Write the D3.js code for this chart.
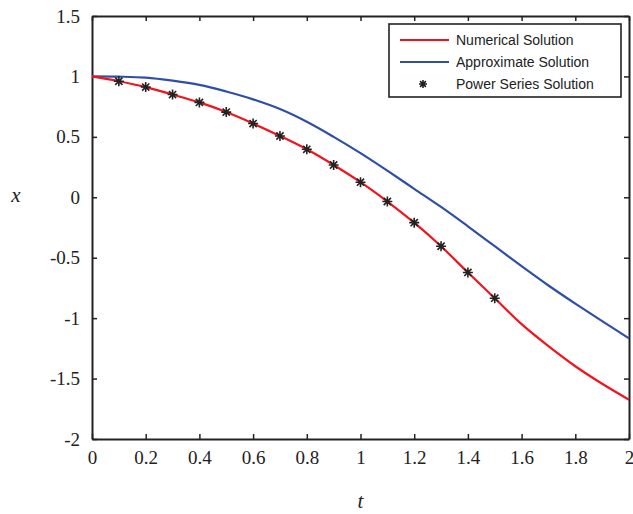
<!DOCTYPE html>
<html>
<head>
<meta charset="utf-8">
<script src="https://cdn.jsdelivr.net/npm/d3@7"></script>
<style>
  body { margin: 0; background: #fff; }
</style>
</head>
<body>
<script>
const tValues = [0, 0.1, 0.2, 0.3, 0.4, 0.5, 0.6, 0.7, 0.8, 0.9, 1.0,
    1.1, 1.2, 1.3, 1.4, 1.5, 1.6, 1.7, 1.8, 1.9, 2.0]
const numerical = [1.0, 0.96, 0.912, 0.85, 0.785, 0.705, 0.61, 0.507, 0.397, 0.267, 0.125,
    -0.035, -0.21, -0.405, -0.622, -0.835, -1.05, -1.232, -1.398, -1.543, -1.675]
const approximate = [1.0, 0.998, 0.99, 0.965, 0.93, 0.875, 0.81, 0.73, 0.625, 0.50, 0.365,
    0.22, 0.07, -0.08, -0.24, -0.405, -0.57, -0.73, -0.88, -1.025, -1.167]
const seriesT = [0.1, 0.2, 0.3, 0.4, 0.5, 0.6, 0.7, 0.8, 0.9, 1.0, 1.1, 1.2, 1.3, 1.4, 1.5]
const seriesX = [0.96, 0.912, 0.85, 0.785, 0.705, 0.61, 0.507, 0.397, 0.267, 0.125,
    -0.035, -0.21, -0.405, -0.622, -0.835]
const xTicks = [0, 0.2, 0.4, 0.6, 0.8, 1, 1.2, 1.4, 1.6, 1.8, 2]
const yTicks = [-2, -1.5, -1, -0.5, 0, 0.5, 1, 1.5]
const legendLabels = ["Numerical Solution", "Approximate Solution", "Power Series Solution"]

const redColor = "#f0141e"
const blueColor = "#2f4fa6"
const serif = "'Liberation Serif', 'Times New Roman', 'DejaVu Serif'"

const margin = { left: 92, top: 16 }
const width = 537
const height = 423

const svg = d3.select("body")
    .append("svg")
    .attr("width", 633)
    .attr("height", 514)

const x = d3.scaleLinear().domain([0, 2]).range([0, width])
const y = d3.scaleLinear().domain([-2, 1.5]).range([height, 0])

const chart = svg.append("g")
    .attr("transform", `translate(${margin.left},${margin.top})`)

const fmt = d => String(d)

const styleAxis = g => {
    g.attr("font-family", serif).attr("font-size", 19)
    g.selectAll("line").attr("stroke", "#222").attr("stroke-width", 1.5)
    g.select(".domain").attr("stroke", "#222").attr("stroke-width", 2)
    g.selectAll("text").attr("fill", "#222")
}

// bottom + left axes with labels, ticks pointing inward
chart.append("g")
    .attr("transform", `translate(0,${height})`)
    .call(d3.axisBottom(x).tickValues(xTicks).tickFormat(fmt).tickSizeInner(-5).tickSizeOuter(0).tickPadding(12))
    .call(styleAxis)
chart.append("g")
    .call(d3.axisLeft(y).tickValues(yTicks).tickFormat(fmt).tickSizeInner(-5).tickSizeOuter(0).tickPadding(12))
    .call(styleAxis)
// top + right mirror ticks
chart.append("g")
    .call(d3.axisTop(x).tickValues(xTicks).tickFormat("").tickSizeInner(-5).tickSizeOuter(0))
    .call(styleAxis)
chart.append("g")
    .attr("transform", `translate(${width},0)`)
    .call(d3.axisRight(y).tickValues(yTicks).tickFormat("").tickSizeInner(-5).tickSizeOuter(0))
    .call(styleAxis)

const line = d3.line()
    .x(d => x(d[0]))
    .y(d => y(d[1]))
    .curve(d3.curveCatmullRom)

chart.append("path")
    .attr("d", line(d3.zip(tValues, approximate)))
    .attr("fill", "none")
    .attr("stroke", blueColor)
    .attr("stroke-width", 2.2)
chart.append("path")
    .attr("d", line(d3.zip(tValues, numerical)))
    .attr("fill", "none")
    .attr("stroke", redColor)
    .attr("stroke-width", 2.2)

// asterisk marker like matlab '*'
const star = (r) => {
    const p = d3.path()
    const dd = r * 0.72
    p.moveTo(-r, 0); p.lineTo(r, 0)
    p.moveTo(0, -r); p.lineTo(0, r)
    p.moveTo(-dd, -dd); p.lineTo(dd, dd)
    p.moveTo(-dd, dd); p.lineTo(dd, -dd)
    return p.toString()
}

chart.selectAll(".star")
    .data(d3.zip(seriesT, seriesX))
    .join("path")
    .attr("class", "star")
    .attr("transform", d => `translate(${x(d[0])},${y(d[1])})`)
    .attr("d", star(5))
    .attr("stroke", "#222")
    .attr("stroke-width", 1.6)

// legend
const legend = svg.append("g").attr("transform", "translate(389,24)")
legend.append("rect")
    .attr("width", 232)
    .attr("height", 73)
    .attr("fill", "#fff")
    .attr("stroke", "#222")
    .attr("stroke-width", 1.6)
const rows = legend.selectAll(".row")
    .data(legendLabels)
    .join("g")
    .attr("transform", (d, i) => `translate(0,${16 + i * 22})`)
rows.filter((d, i) => i < 2).append("line")
    .attr("x1", 11).attr("x2", 60)
    .attr("stroke", (d, i) => i === 0 ? redColor : blueColor)
    .attr("stroke-width", 2.2)
rows.filter((d, i) => i === 2).append("path")
    .attr("transform", "translate(34,0)")
    .attr("d", star(4))
    .attr("stroke", "#222")
    .attr("stroke-width", 1.6)
rows.append("text")
    .attr("x", 67)
    .attr("dy", "0.35em")
    .attr("font-family", "'Liberation Sans', Arial, sans-serif")
    .attr("font-size", 14)
    .attr("fill", "#222")
    .text(d => d)

// axis titles
svg.append("text")
    .attr("x", margin.left + width / 2)
    .attr("y", 508)
    .attr("text-anchor", "middle")
    .attr("font-family", serif)
    .attr("font-style", "italic")
    .attr("font-size", 21)
    .attr("fill", "#222")
    .text("t")
svg.append("text")
    .attr("x", 16)
    .attr("y", margin.top + y(0) + 5)
    .attr("text-anchor", "middle")
    .attr("font-family", serif)
    .attr("font-style", "italic")
    .attr("font-size", 21)
    .attr("fill", "#222")
    .text("x")
</script>
</body>
</html>
